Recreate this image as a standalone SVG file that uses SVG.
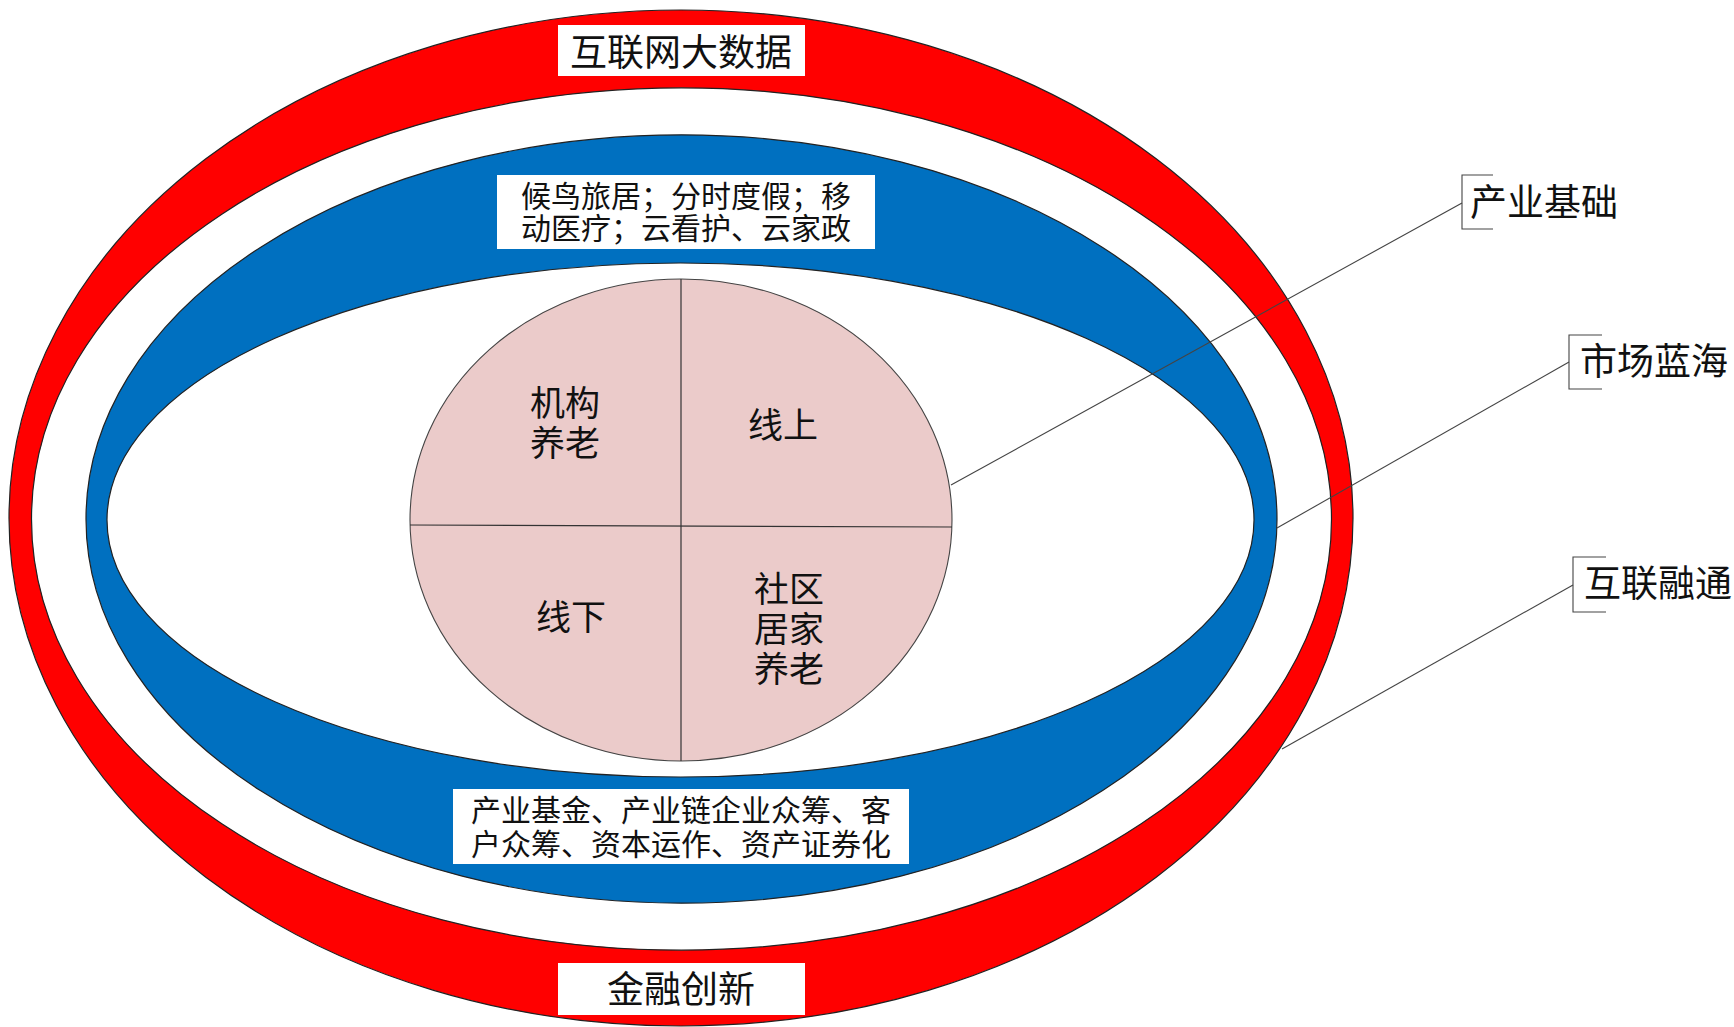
<svg xmlns="http://www.w3.org/2000/svg" width="1734" height="1027" viewBox="0 0 1734 1027">
<style>
text{font-family:"Noto Sans CJK SC","Noto Sans CJK JP",sans-serif;fill:#111;text-anchor:middle;dominant-baseline:central}
.ring{fill-rule:evenodd;stroke:#222;stroke-width:1.2}
.box{fill:#fff}
.lead{stroke:#444;stroke-width:1.1;fill:none}
.t37{font-size:37px}
.t36{font-size:35px}
.t30{font-size:30px}
</style>
<rect width="1734" height="1027" fill="#fff"/>
<g id="ring-red">
<path class="ring" fill="#ff0000" d="M9,518 a672,508 0 1,0 1344,0 a672,508 0 1,0 -1344,0 Z M31.5,519 a650,431 0 1,0 1300,0 a650,431 0 1,0 -1300,0 Z"/>
</g>
<g id="ring-blue">
<path class="ring" fill="#0070c0" d="M86,519 a595.5,384 0 1,0 1191,0 a595.5,384 0 1,0 -1191,0 Z M107,520 a573.5,257 0 1,0 1147,0 a573.5,257 0 1,0 -1147,0 Z"/>
</g>
<g id="core">
<ellipse cx="681" cy="520" rx="271" ry="241" fill="#ebcbca" stroke="#444" stroke-width="1.1"/>
<line x1="681" y1="279" x2="681" y2="761" stroke="#333" stroke-width="1.2"/>
<line x1="410" y1="525" x2="952" y2="527" stroke="#333" stroke-width="1.2"/>
</g>
<g id="q-jigou"><text class="t36" x="565" y="400">机构<tspan x="565" dy="40">养老</tspan></text></g>
<g id="q-xianshang"><text class="t36" x="783" y="422">线上</text></g>
<g id="q-xianxia"><text class="t36" x="571" y="614">线下</text></g>
<g id="q-shequ"><text class="t36" x="789" y="586">社区<tspan x="789" dy="40">居家</tspan><tspan x="789" dy="40">养老</tspan></text></g>
<g id="label-top"><rect class="box" x="558" y="25" width="247" height="51"/><text class="t37" x="681" y="50">互联网大数据</text></g>
<g id="label-bottom"><rect class="box" x="558" y="963" width="247" height="52"/><text class="t37" x="681" y="987">金融创新</text></g>
<g id="label-blue-top"><rect class="box" x="497" y="175" width="378" height="74"/><text class="t30" x="686" y="194">候鸟旅居；分时度假；移<tspan x="686" dy="32">动医疗；云看护、云家政</tspan></text></g>
<g id="label-blue-bottom"><rect class="box" x="453" y="789" width="456" height="75"/><text class="t30" x="681" y="808">产业基金、产业链企业众筹、客<tspan x="681" dy="34">户众筹、资本运作、资产证券化</tspan></text></g>
<g id="connectors">
<line class="lead" x1="951" y1="485" x2="1462" y2="203"/>
<line class="lead" x1="1277" y1="528" x2="1569" y2="362"/>
<line class="lead" x1="1282" y1="749" x2="1573" y2="585"/>
</g>
<g id="callout-chanye"><path class="lead" d="M1493,175 H1462 V229 H1493"/><text class="t37" x="1544" y="200">产业基础</text></g>
<g id="callout-shichang"><path class="lead" d="M1602,335 H1569 V389 H1602"/><text class="t37" x="1654" y="359">市场蓝海</text></g>
<g id="callout-hulian"><path class="lead" d="M1606,557 H1573 V612 H1606"/><text class="t37" x="1658" y="581">互联融通</text></g>
</svg>
